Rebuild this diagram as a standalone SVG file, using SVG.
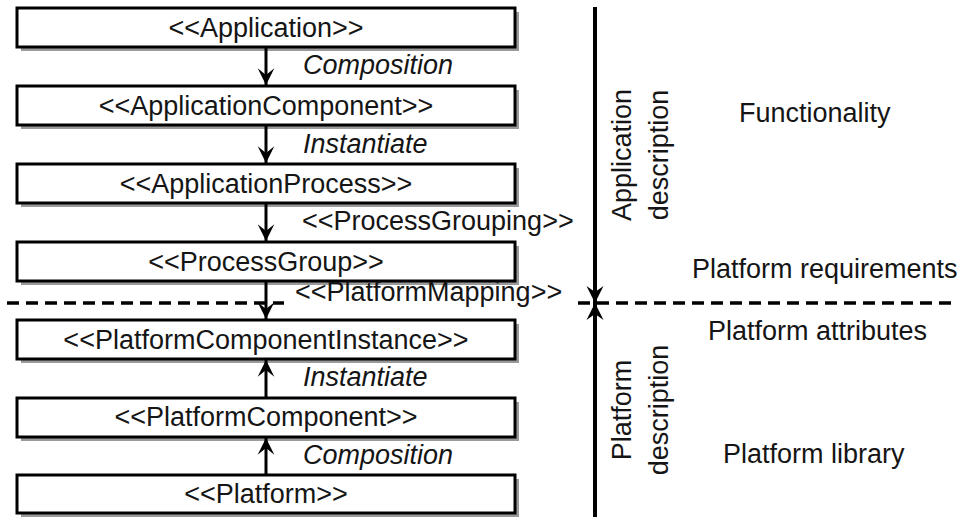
<svg xmlns="http://www.w3.org/2000/svg" width="958" height="517" viewBox="0 0 958 517">
<style>
  .shadow { fill: #9a9a9a; }
  .box { fill: #ffffff; stroke: #000; stroke-width: 3; }
  .t { font-family: "Liberation Sans", Arial, sans-serif; font-size: 27px; fill: #151515; }
  .c { text-anchor: middle; }
  .i { font-style: italic; }
  .conn { stroke: #000; stroke-width: 3; fill: none; }
  .axis { stroke: #000; stroke-width: 4; fill: none; }
  .dash { stroke: #000; stroke-width: 3.5; fill: none; stroke-dasharray: 12 7; }
</style>
<defs>
  <marker id="ah" markerUnits="userSpaceOnUse" markerWidth="20" markerHeight="20" viewBox="-16 -9 18 18" refX="0" refY="0" orient="auto">
    <path d="M0,0 L-15,-7.5 L-9,0 L-15,7.5 Z" fill="#000"/>
  </marker>
  <marker id="ah2" markerUnits="userSpaceOnUse" markerWidth="20" markerHeight="20" viewBox="-18 -10 20 20" refX="0" refY="0" orient="auto">
    <path d="M0,0 L-17,-8.5 L-11,0 L-17,8.5 Z" fill="#000"/>
  </marker>
</defs>

<g id="n-application">
  <rect class="shadow" x="21" y="12" width="498" height="39"/>
  <rect class="box" x="17" y="8" width="498" height="39"/>
  <text class="t c" x="266" y="37">&lt;&lt;Application&gt;&gt;</text>
</g>
<g id="n-appcomponent">
  <rect class="shadow" x="21" y="90" width="498" height="39"/>
  <rect class="box" x="17" y="86" width="498" height="39"/>
  <text class="t c" x="266" y="115">&lt;&lt;ApplicationComponent&gt;&gt;</text>
</g>
<g id="n-appprocess">
  <rect class="shadow" x="21" y="168" width="498" height="39"/>
  <rect class="box" x="17" y="164" width="498" height="39"/>
  <text class="t c" x="266" y="193">&lt;&lt;ApplicationProcess&gt;&gt;</text>
</g>
<g id="n-processgroup">
  <rect class="shadow" x="21" y="246" width="498" height="39"/>
  <rect class="box" x="17" y="242" width="498" height="39"/>
  <text class="t c" x="266" y="271">&lt;&lt;ProcessGroup&gt;&gt;</text>
</g>
<g id="n-pcinstance">
  <rect class="shadow" x="21" y="324" width="498" height="39"/>
  <rect class="box" x="17" y="320" width="498" height="39"/>
  <text class="t c" x="266" y="349">&lt;&lt;PlatformComponentInstance&gt;&gt;</text>
</g>
<g id="n-pcomponent">
  <rect class="shadow" x="21" y="402" width="498" height="39"/>
  <rect class="box" x="17" y="398" width="498" height="39"/>
  <text class="t c" x="266" y="426">&lt;&lt;PlatformComponent&gt;&gt;</text>
</g>
<g id="n-platform">
  <rect class="shadow" x="21" y="479" width="498" height="39"/>
  <rect class="box" x="17" y="475" width="498" height="38"/>
  <text class="t c" x="266" y="503">&lt;&lt;Platform&gt;&gt;</text>
</g>

<g id="connectors">
  <line class="conn" x1="266" y1="48" x2="266" y2="85" marker-end="url(#ah)"/>
  <line class="conn" x1="266" y1="126" x2="266" y2="163" marker-end="url(#ah)"/>
  <line class="conn" x1="266" y1="204" x2="266" y2="241" marker-end="url(#ah)"/>
  <line class="conn" x1="266" y1="282" x2="266" y2="319" marker-end="url(#ah)"/>
  <line class="conn" x1="266" y1="397" x2="266" y2="360" marker-end="url(#ah)"/>
  <line class="conn" x1="266" y1="474" x2="266" y2="438" marker-end="url(#ah)"/>
  <text class="t i" x="303" y="74">Composition</text>
  <text class="t i" x="303" y="153">Instantiate</text>
  <text class="t" x="302" y="230">&lt;&lt;ProcessGrouping&gt;&gt;</text>
  <text class="t" x="295" y="301">&lt;&lt;PlatformMapping&gt;&gt;</text>
  <text class="t i" x="303" y="386">Instantiate</text>
  <text class="t i" x="303" y="464">Composition</text>
</g>

<g id="separator">
  <line class="dash" x1="7" y1="303" x2="284" y2="303"/>
  <line class="dash" x1="578" y1="303" x2="958" y2="303"/>
  <line class="axis" x1="595" y1="7" x2="595" y2="303" marker-end="url(#ah2)"/>
  <line class="axis" x1="595" y1="517" x2="595" y2="303" marker-end="url(#ah2)"/>
</g>

<g id="side-labels">
  <text class="t c" transform="translate(631,155) rotate(-90)">Application</text>
  <text class="t c" transform="translate(668,155) rotate(-90)">description</text>
  <text class="t c" transform="translate(631,410) rotate(-90)">Platform</text>
  <text class="t c" transform="translate(668,410) rotate(-90)">description</text>
  <text class="t" x="739" y="122">Functionality</text>
  <text class="t" x="692" y="278">Platform requirements</text>
  <text class="t" x="708" y="340">Platform attributes</text>
  <text class="t" x="723" y="463">Platform library</text>
</g>
</svg>
